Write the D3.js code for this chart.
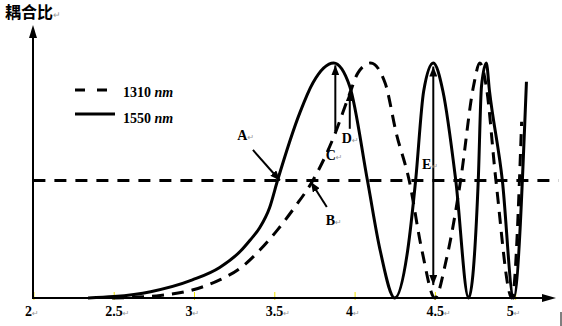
<!DOCTYPE html>
<html>
<head>
<meta charset="utf-8">
<script src="https://cdn.jsdelivr.net/npm/d3@7"></script>
<style>
  body { margin: 0; background: #fff; }
  svg { display: block; }
</style>
</head>
<body>
<div id="chart"></div>
<script>
// x ticks of the plot
const xTicks = [2, 2.5, 3, 3.5, 4, 4.5, 5];

// coupling ratio, 1550 nm (solid)  [x, ratio]
const solid1550 = [
  [2.34, 0], [2.50, 0.006], [2.73, 0.027], [2.99, 0.077], [3.16, 0.13], [3.29, 0.20],
  [3.35, 0.247], [3.41, 0.30], [3.47, 0.383], [3.52, 0.50], [3.66, 0.79], [3.74, 0.915],
  [3.87, 1.0], [3.97, 0.90], [4.08, 0.50], [4.16, 0.20], [4.25, 0], [4.33, 0.20],
  [4.38, 0.50], [4.43, 0.88], [4.49, 1.0], [4.55, 0.88], [4.63, 0.50], [4.71, 0],
  [4.77, 0.50], [4.79, 0.90], [4.82, 1.0], [4.84, 0.88], [4.92, 0.50], [4.99, 0], [5.07, 0.92]
];

// coupling ratio, 1310 nm (dashed)
const dashed1310 = [
  [2.49, 0], [2.79, 0.011], [2.99, 0.034], [3.16, 0.077], [3.29, 0.128], [3.41, 0.204],
  [3.52, 0.29], [3.63, 0.389], [3.74, 0.50], [3.87, 0.685], [3.97, 0.87], [4.02, 0.957],
  [4.10, 1.0], [4.19, 0.915], [4.26, 0.70], [4.34, 0.50], [4.42, 0.20], [4.50, 0],
  [4.57, 0.16], [4.66, 0.50], [4.74, 0.90], [4.78, 1.0], [4.82, 0.90], [4.88, 0.50],
  [4.98, 0], [5.04, 0.75]
];

const threshold = 0.5;

// annotation arrows: [x1, y1, x2, y2, double?]
const arrows = [
  [3.367, 0.63, 3.535, 0.50, false],  // A
  [3.827, 0.387, 3.728, 0.494, false], // B
  [3.88, 0.71, 3.88, 0.99, false],    // C
  [3.97, 0.72, 3.97, 0.88, false],    // D
  [4.49, 0.055, 4.49, 0.985, true]    // E
];
const labelNames = ["A", "B", "C", "D", "E"];
const labelPos = [[3.27, 0.672], [3.82, 0.311], [3.82, 0.589], [3.92, 0.66], [4.42, 0.55]];

const W = 562, H = 326;
const svg = d3.select("#chart").append("svg")
  .attr("width", W).attr("height", H)
  .style("font-family", "'Liberation Serif', 'Times New Roman', serif");

const x = d3.scaleLinear().domain([2, 5]).range([33.4, 515.2]);
const y = d3.scaleLinear().domain([0, 1]).range([298, 63]);

const defs = svg.append("defs");
defs.append("marker")
  .attr("id", "head")
  .attr("viewBox", "0 0 10 8")
  .attr("refX", 10).attr("refY", 4)
  .attr("markerWidth", 10).attr("markerHeight", 8)
  .attr("markerUnits", "userSpaceOnUse")
  .attr("orient", "auto-start-reverse")
  .append("path").attr("d", "M0,0L10,4L0,8Z").attr("fill", "#000");

// title
const title = svg.append("text")
  .attr("x", 5).attr("y", 18)
  .style("font-family", "'Noto Sans CJK SC', sans-serif")
  .style("font-weight", "bold").style("font-size", "16px")
  .text("耦合比");
title.append("tspan").attr("fill", "#999").style("font-size", "9px").style("font-weight", "normal").text("↵");

// x axis ticks (yellow) + labels
const xAxis = d3.axisBottom(x).tickValues(xTicks).tickSize(0).tickFormat("");
const gx = svg.append("g").attr("transform", "translate(0,298)").call(xAxis);
gx.select(".domain").remove();
gx.selectAll(".tick").append("line")
  .attr("y1", -6).attr("y2", 2)
  .attr("stroke", "#f2e600").attr("stroke-width", 1);
gx.selectAll(".tick").append("text")
  .attr("y", 18).attr("dx", -9)
  .attr("text-anchor", "start")
  .attr("fill", "#000")
  .style("font-family", "'Liberation Serif', serif")
  .style("font-size", "14px").style("font-weight", "bold")
  .text(d => d)
  .append("tspan").attr("fill", "#999").style("font-size", "8px").style("font-weight", "normal")
  .style("font-family", "'DejaVu Sans', sans-serif").text("↵");

// threshold line
svg.append("line")
  .attr("x1", x(2)).attr("x2", x(5.27))
  .attr("y1", y(threshold)).attr("y2", y(threshold))
  .attr("stroke", "#000").attr("stroke-width", 3).attr("stroke-dasharray", "12,9");

const line = d3.line().x(d => x(d[0])).y(d => y(d[1])).curve(d3.curveMonotoneX);

svg.append("path").datum(dashed1310)
  .attr("d", line).attr("fill", "none")
  .attr("stroke", "#000").attr("stroke-width", 3).attr("stroke-dasharray", "12,8");

svg.append("path").datum(solid1550)
  .attr("d", line).attr("fill", "none")
  .attr("stroke", "#000").attr("stroke-width", 3);

// axes with arrow heads
svg.append("line").attr("x1", 33).attr("x2", 33).attr("y1", 299).attr("y2", 36)
  .attr("stroke", "#000").attr("stroke-width", 2);
svg.append("path").attr("d", "M33,25L37,38L29,38Z").attr("fill", "#000");
svg.append("line").attr("x1", 32).attr("x2", 544).attr("y1", 298).attr("y2", 298)
  .attr("stroke", "#000").attr("stroke-width", 2);
svg.append("path").attr("d", "M556,298L542,294L542,302Z").attr("fill", "#000");

// annotation arrows
svg.selectAll(".arrow").data(arrows).enter().append("line")
  .attr("class", "arrow")
  .attr("x1", d => x(d[0])).attr("y1", d => y(d[1]))
  .attr("x2", d => x(d[2])).attr("y2", d => y(d[3]))
  .attr("stroke", "#000").attr("stroke-width", 2)
  .attr("marker-end", "url(#head)")
  .attr("marker-start", d => d[4] ? "url(#head)" : null);

const labels = svg.selectAll(".lab").data(labelNames).enter().append("text")
  .attr("class", "lab")
  .attr("x", (d, i) => x(labelPos[i][0])).attr("y", (d, i) => y(labelPos[i][1]))
  .style("font-size", "14px").style("font-weight", "bold")
  .text(d => d);
labels.append("tspan").attr("fill", "#999").style("font-size", "8px").style("font-weight", "normal")
  .style("font-family", "'DejaVu Sans', sans-serif").text("↵");

// legend
const legend = svg.append("g");
legend.append("line").attr("x1", 75).attr("x2", 108).attr("y1", 90).attr("y2", 90)
  .attr("stroke", "#000").attr("stroke-width", 3).attr("stroke-dasharray", "10,12");
legend.append("line").attr("x1", 75).attr("x2", 115).attr("y1", 114).attr("y2", 114)
  .attr("stroke", "#000").attr("stroke-width", 3);
[["1310", 97], ["1550", 123]].forEach(([t, yy]) => {
  const tx = legend.append("text").attr("x", 123).attr("y", yy)
    .style("font-size", "14px").style("font-weight", "bold");
  tx.append("tspan").text(t + " ");
  tx.append("tspan").style("font-style", "italic").text("nm");
});

// page border artifact
svg.append("line").attr("x1", 561).attr("x2", 561).attr("y1", 312).attr("y2", 326)
  .attr("stroke", "#000").attr("stroke-width", 1);
</script>
</body>
</html>
